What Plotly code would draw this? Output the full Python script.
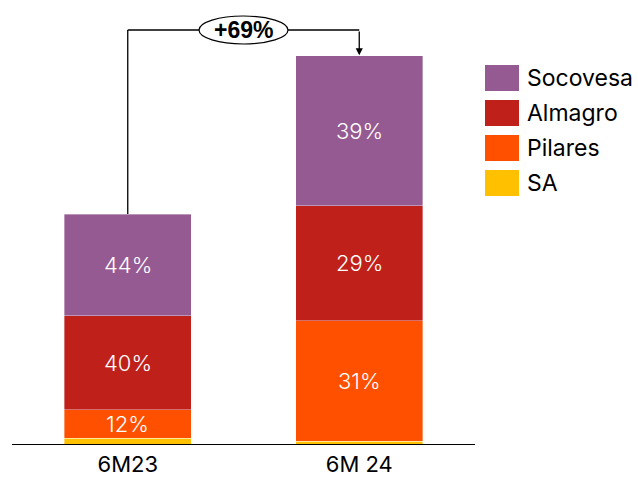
import plotly.graph_objects as go

categories = ["6M23", "6M 24"]
series_names = ["SA", "Pilares", "Almagro", "Socovesa"]
series_colors = ["#FFC000", "#FF5000", "#C0201A", "#955A91"]
# segment sizes (index: 6M23 total = 100)
values = {
    "SA": [2.4, 1.3],
    "Pilares": [12.5, 52.2],
    "Almagro": [40.9, 50.0],
    "Socovesa": [44.2, 65.2],
}
labels = {
    "SA": ["", ""],
    "Pilares": ["12%", "31%"],
    "Almagro": ["40%", "29%"],
    "Socovesa": ["44%", "39%"],
}
growth_label = "+69%"

FONT = "Inter"
W, H = 638, 477
ml, mr, mt, mb = 12, 163, 10, 33
plot_h = H - mt - mb
px_per_unit = 2.3
ymax = plot_h / px_per_unit

fig = go.Figure()
base = [0.0, 0.0]
for name, color in zip(series_names, series_colors):
    fig.add_trace(go.Bar(
        x=categories, y=values[name], name=name,
        marker=dict(color=color, line=dict(color="rgba(255,255,255,0.45)", width=0.8)),
        showlegend=False, hoverinfo="skip",
    ))
    for i, cat in enumerate(categories):
        if labels[name][i]:
            fig.add_annotation(x=cat, y=base[i] + values[name][i] / 2, xref="x", yref="y",
                               text=labels[name][i], showarrow=False,
                               font=dict(family=FONT, size=22, color="white", weight=300))
        base[i] += values[name][i]

totals = base
y_bracket = (444 - 30) / px_per_unit

# connector
fig.add_shape(type="line", xref="x", yref="y", x0=0, x1=0, y0=totals[0], y1=y_bracket,
              line=dict(color="black", width=1.3))
fig.add_shape(type="line", xref="x", yref="y", x0=0, x1=1, y0=y_bracket, y1=y_bracket,
              line=dict(color="black", width=1.3))
fig.add_annotation(x=1, y=totals[1] + 0.3, ax=1, ay=y_bracket, xref="x", yref="y",
                   axref="x", ayref="y", text="", showarrow=True, arrowhead=2,
                   arrowsize=1.1, arrowwidth=1.3, arrowcolor="black")
# ellipse label
ew = 44.5 / 231.5
eh = 14 / px_per_unit
fig.add_shape(type="circle", xref="x", yref="y", x0=0.5 - ew, x1=0.5 + ew,
              y0=y_bracket - eh, y1=y_bracket + eh,
              line=dict(color="black", width=1.2), fillcolor="white")
fig.add_annotation(x=0.5, y=y_bracket, xref="x", yref="y", text="<b>" + growth_label + "</b>",
                   showarrow=False, font=dict(family="Liberation Sans", size=23, color="black"))

# custom legend (top to bottom: Socovesa, Almagro, Pilares, SA)
leg_order = list(reversed(series_names))
leg_colors = list(reversed(series_colors))
for i, (n, c) in enumerate(zip(leg_order, leg_colors)):
    top = 65 + i * 35
    fig.add_shape(type="rect", xref="paper", yref="paper",
                  x0=(485 - ml) / (W - ml - mr), x1=(519 - ml) / (W - ml - mr),
                  y0=1 - (top + 26 - mt) / plot_h, y1=1 - (top - mt) / plot_h,
                  line=dict(width=0), fillcolor=c)
    fig.add_annotation(xref="paper", yref="paper", x=(525 - ml) / (W - ml - mr),
                       y=1 - (top + 13 - mt) / plot_h, xanchor="left", yanchor="middle",
                       text=n, showarrow=False, font=dict(family=FONT, size=23, color="black"))

fig.update_layout(
    width=W, height=H, barmode="stack", bargap=0.45,
    margin=dict(l=ml, r=mr, t=mt, b=mb, autoexpand=False),
    paper_bgcolor="white", plot_bgcolor="white",
    showlegend=False, font=dict(family=FONT),
)
fig.update_xaxes(type="category", range=[-0.5, 1.5], showline=True, linecolor="black",
                 linewidth=1.3, ticks="", tickfont=dict(family=FONT, size=22, color="black"),
                 showgrid=False, zeroline=False, automargin=False)
fig.update_yaxes(range=[0, ymax], visible=False, showgrid=False, automargin=False)

fig.write_html("out.html")
